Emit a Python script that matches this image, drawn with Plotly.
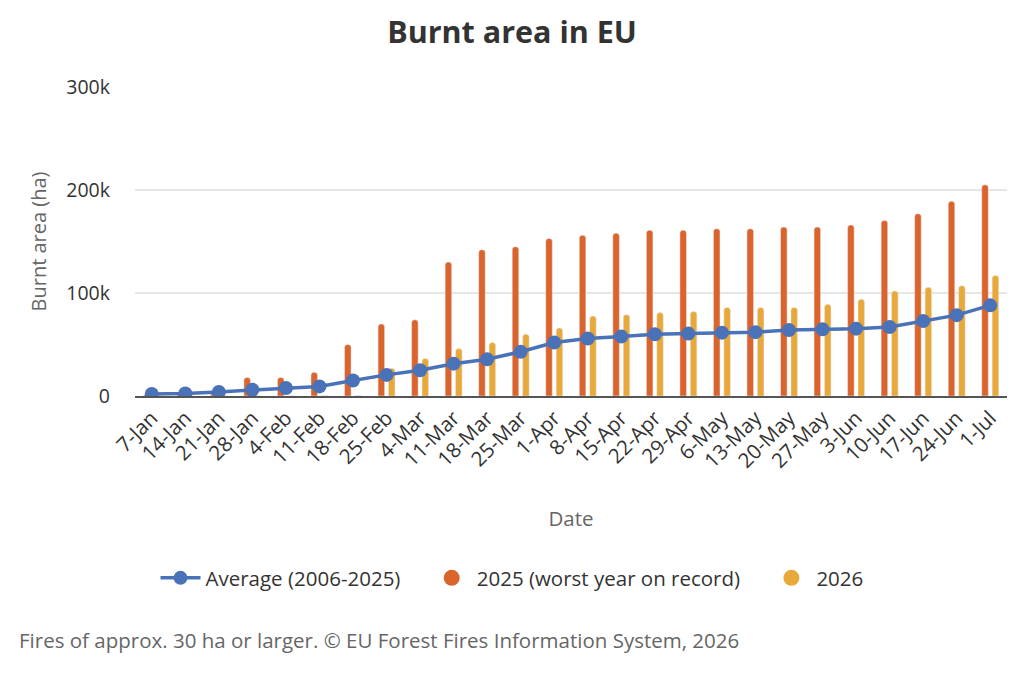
import plotly.graph_objects as go

dates = ["7-Jan", "14-Jan", "21-Jan", "28-Jan", "4-Feb", "11-Feb", "18-Feb", "25-Feb",
         "4-Mar", "11-Mar", "18-Mar", "25-Mar", "1-Apr", "8-Apr", "15-Apr", "22-Apr",
         "29-Apr", "6-May", "13-May", "20-May", "27-May", "3-Jun", "10-Jun", "17-Jun",
         "24-Jun", "1-Jul"]

average = [2000, 2500, 4000, 6000, 7700, 9300, 15000, 20500, 25000, 31400, 35600, 43000,
           52000, 55800, 57700, 60000, 60600, 61500, 62000, 64000, 64700, 65400, 67000,
           72800, 78500, 88000]

y2025 = [1000, 1200, 3000, 18000, 18000, 23000, 50000, 70000, 74000, 130000, 142000, 145000,
         153000, 156000, 158000, 161000, 161000, 162500, 162500, 164000, 164000, 166000,
         170500, 177000, 189000, 205000]

y2026 = [100, 150, 200, 250, 300, 350, 500, 27000, 36500, 46000, 52000, 60000,
         66000, 77600, 79000, 81000, 82000, 86000, 86000, 86000, 89000, 94000,
         102000, 105500, 107000, 117000]

c_avg = "#4A72B8"
c_2025 = "#DB642C"
c_2026 = "#E9A93A"
font = "Open Sans"
pad = "\u00a0" * 4

# page is rendered with an 8px body margin, so the figure is offset by (8, 8)
W, H, OFF = 1024, 683, 8
PL, PR, PT, PB = 135 - OFF, 1007 - OFF, 87 - OFF, 396 - OFF  # plot area in figure px

fig = go.Figure()
fig.add_trace(go.Bar(x=dates, y=y2025, name="2025 (worst year on record)",
                     marker_color=c_2025, showlegend=False))
fig.add_trace(go.Bar(x=dates, y=y2026, name="2026",
                     marker_color=c_2026, showlegend=False))
fig.add_trace(go.Scatter(x=dates, y=average, name="Average (2006-2025)" + pad, mode="lines+markers",
                         line=dict(color=c_avg, width=3.5),
                         marker=dict(color=c_avg, size=14)))
# legend-only entries with circle symbols
fig.add_trace(go.Scatter(x=[None], y=[None], name="2025 (worst year on record)" + pad, mode="markers",
                         marker=dict(color=c_2025, size=18, symbol="circle")))
fig.add_trace(go.Scatter(x=[None], y=[None], name="2026", mode="markers",
                         marker=dict(color=c_2026, size=18, symbol="circle")))

fig.update_layout(
    width=W, height=H,
    paper_bgcolor="white", plot_bgcolor="white",
    margin=dict(l=PL, r=W - PR, t=PT, b=H - PB, autoexpand=False),
    font=dict(family=font, size=19.5, color="#333333"),
    title=dict(text="<b>Burnt area in EU</b>", x=(512 - OFF) / W, xref="container", xanchor="center",
               y=1 - (32 - OFF) / H, yref="container", yanchor="middle",
               font=dict(size=30.5, color="#333333", family=font)),
    barmode="group", bargap=0.38, bargroupgap=0.37, barcornerradius=3,
    legend=dict(orientation="h", x=(512 - OFF) / W, xref="container", xanchor="center",
                y=1 - (578 - OFF) / H, yref="container", yanchor="middle",
                font=dict(size=20.5, color="#333333"), itemwidth=40,
                traceorder="normal"),
    annotations=[dict(text="Fires of approx. 30 ha or larger. © EU Forest Fires Information System, 2026",
                      xref="paper", yref="paper",
                      x=(17 - OFF - PL) / (PR - PL), y=(PB - (640 - OFF)) / (PB - PT),
                      xanchor="left", yanchor="middle", showarrow=False,
                      font=dict(size=20.5, color="#666666"))],
)

fig.update_xaxes(
    type="category", range=[-0.5, len(dates) - 0.5],
    tickangle=-45, tickfont=dict(size=20.5, color="#333333"),
    title=dict(text="Date", font=dict(size=20.5, color="#666666"), standoff=39),
    showgrid=False, showline=True, linecolor="#555555", linewidth=2,
    ticks="", automargin=False,
)
fig.update_yaxes(
    range=[0, 300000], tickvals=[0, 100000, 200000, 300000],
    ticktext=["0", "100k", "200k", "300k"],
    tickfont=dict(size=19.5, color="#333333"),
    title=dict(text="Burnt area (ha)", font=dict(size=20, color="#666666"), standoff=14),
    showgrid=True, gridcolor="#E6E6E6", gridwidth=1.5,
    zeroline=False, showline=False, ticklabelstandoff=24, automargin=False,
)

fig.write_html("out.html")
